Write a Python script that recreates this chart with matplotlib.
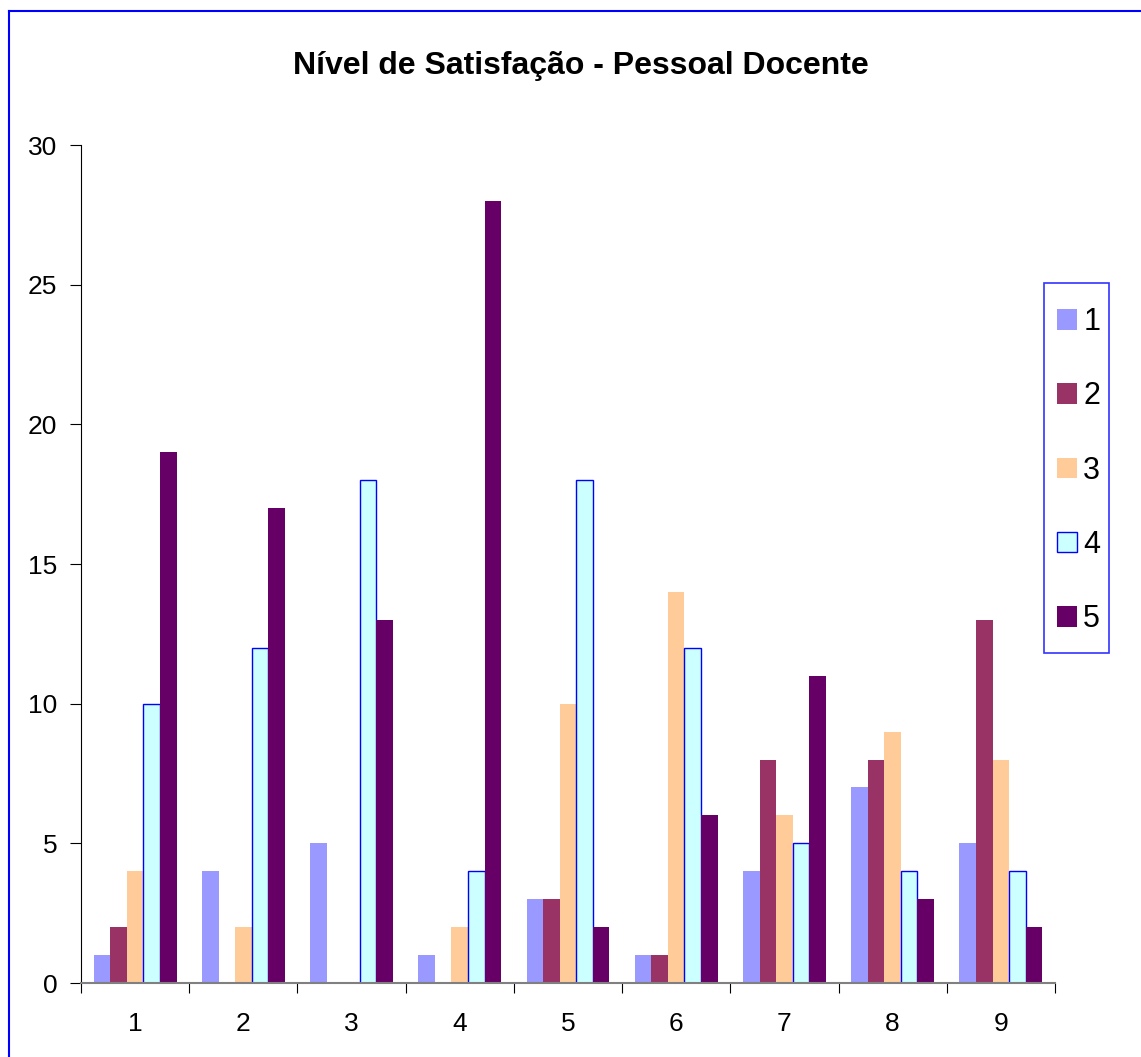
import numpy as np
import matplotlib.pyplot as plt
from matplotlib.lines import Line2D
from matplotlib.patches import Rectangle

plt.rcParams['font.family'] = ['Liberation Sans', 'DejaVu Sans']

grupos = ['1', '2', '3', '4', '5', '6', '7', '8', '9']
series = ['1', '2', '3', '4', '5']
s1 = [1, 4, 5, 1, 3, 1, 4, 7, 5]
s2 = [2, 0, 0, 0, 3, 1, 8, 8, 13]
s3 = [4, 2, 0, 2, 10, 14, 6, 9, 8]
s4 = [10, 12, 18, 4, 18, 12, 5, 4, 4]
s5 = [19, 17, 13, 28, 2, 6, 11, 3, 2]
valores = [s1, s2, s3, s4, s5]
cores = ['#9999FF', '#993366', '#FFCC99', '#CCFFFF', '#660066']
bordas = ['none', 'none', 'none', '#0000FF', 'none']

fig = plt.figure(figsize=(11.41, 10.57), dpi=100)
ax = fig.add_axes([0.071, 0.070, 0.8536, 0.7928])

x = np.arange(len(grupos))
w = 0.153
for i, v in enumerate(valores):
    ax.bar(x + (i - 2) * w, v, width=w, color=cores[i], edgecolor=bordas[i],
           linewidth=1.0, label=series[i], zorder=2)

ax.set_xlim(-0.5, 8.5)
ax.set_ylim(0, 30)
ax.set_yticks(range(0, 31, 5))
ax.set_xticks(np.arange(-0.5, 9, 1))
ax.set_xticklabels([])
ax.set_xticks(x, minor=True)
ax.set_xticklabels(grupos, minor=True)
ax.tick_params(axis='x', which='major', direction='out', length=7, color='black')
ax.tick_params(axis='x', which='minor', length=0, pad=21, labelsize=19)
ax.tick_params(axis='y', direction='out', length=8, labelsize=19, pad=9)

for s in ['top', 'right']:
    ax.spines[s].set_visible(False)
ax.spines['left'].set_color('black')
ax.spines['bottom'].set_color('#808080')
ax.spines['bottom'].set_linewidth(1.5)

fig.text(0.509, 0.938, 'Nível de Satisfação - Pessoal Docente', ha='center', va='center',
         fontsize=23, fontweight='bold')

# legenda sem moldura + caixa desenhada à parte
leg = fig.legend(loc='upper left', bbox_to_anchor=(1057 / 1141, 1 - 307 / 1057),
                 bbox_transform=fig.transFigure, borderaxespad=0, borderpad=0,
                 fontsize=22, frameon=False, labelspacing=1.45, handlelength=0.66,
                 handleheight=0.66, handletextpad=0.2)
fig.patches.append(Rectangle((1044 / 1141, 1 - 653 / 1057), 65 / 1141, 370 / 1057,
                             transform=fig.transFigure, fill=False,
                             edgecolor='#3333FF', linewidth=1.2))

# moldura do gráfico (só topo e esquerda visíveis)
fig.lines.append(Line2D([9 / 1141, 1], [1 - 11 / 1057, 1 - 11 / 1057],
                        transform=fig.transFigure, color='#0000FF', linewidth=1.5))
fig.lines.append(Line2D([9 / 1141, 9 / 1141], [0, 1 - 11 / 1057],
                        transform=fig.transFigure, color='#0000FF', linewidth=1.5))

fig.savefig('out.png', dpi=100)
